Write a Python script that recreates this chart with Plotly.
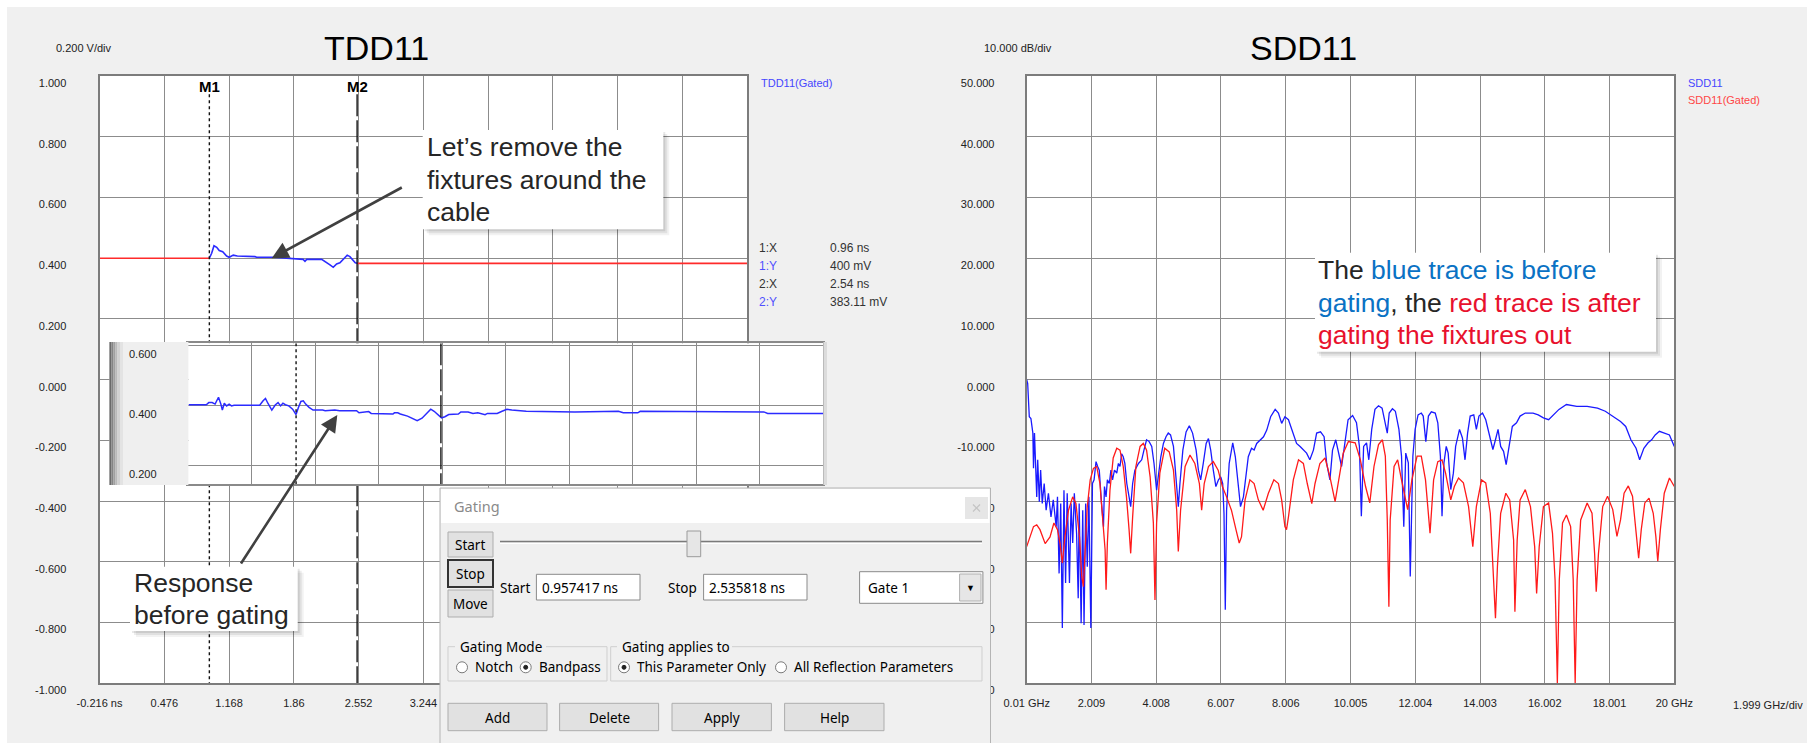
import plotly.graph_objects as go

W, H = 1807, 743
ARIAL = "Liberation Sans, Arial, sans-serif"
UI = "Noto Sans, Liberation Sans, sans-serif"

# ---------------- data ----------------
tdd_ticks = [-0.216, 0.476, 1.168, 1.86, 2.552, 3.244, 3.936, 4.628, 5.32, 6.012, 6.704]
# labels beyond 3.244 ns are hidden behind the Gating dialog in the reference
tdd_tick_text = ["-0.216 ns", "0.476", "1.168", "1.86", "2.552", "3.244", "", "", "", "", ""]
tdd_v_ticks = [-1.0, -0.8, -0.6, -0.4, -0.2, 0.0, 0.2, 0.4, 0.6, 0.8, 1.0]
tdd_v_text = ["-1.000", "-0.800", "-0.600", "-0.400", "-0.200", "0.000", "0.200", "0.400", "0.600", "0.800", "1.000"]

sdd_ticks = [0.01, 2.009, 4.008, 6.007, 8.006, 10.005, 12.004, 14.003, 16.002, 18.001, 20.0]
sdd_tick_text = ["0.01 GHz", "2.009", "4.008", "6.007", "8.006", "10.005", "12.004", "14.003", "16.002", "18.001", "20 GHz"]
sdd_db_ticks = [-50, -40, -30, -20, -10, 0, 10, 20, 30, 40, 50]
sdd_db_text = ["-50.000", "-40.000", "-30.000", "-20.000", "-10.000", "0.000", "10.000", "20.000", "30.000", "40.000", "50.000"]

marker_times = [0.957417, 2.535818]
marker_names = ["M1", "M2"]

# gated TDD11 (red) : before M1 and after M2
tdd_red_t = [-0.216, 0.957, None, 2.541, 6.704]
tdd_red_v = [0.400, 0.400, None, 0.383, 0.383]

# TDD11 inside the gate (blue)
tdd_gate_t = [0.957, 0.982, 1.007, 1.036, 1.063, 1.100, 1.142, 1.170, 1.213, 1.256, 1.445, 1.463, 1.640,
              1.854, 1.960, 1.979, 1.997, 2.157, 2.192, 2.246, 2.281, 2.317, 2.352, 2.388, 2.430, 2.459,
              2.487, 2.516, 2.541]
tdd_gate_v = [0.400, 0.416, 0.441, 0.436, 0.425, 0.421, 0.407, 0.403, 0.410, 0.407, 0.405, 0.403, 0.403,
              0.398, 0.396, 0.390, 0.396, 0.396, 0.390, 0.378, 0.370, 0.381, 0.385, 0.398, 0.410, 0.405,
              0.394, 0.385, 0.383]

# response before gating (inset)
inset_t = [-0.216, -0.021, 0.006, 0.043, 0.075, 0.112, 0.138, 0.154, 0.175, 0.201, 0.228, 0.254, 0.281,
           0.561, 0.598, 0.624, 0.650, 0.693, 0.730, 0.761, 0.788, 0.814, 0.841, 0.878, 0.920, 0.957,
           0.983, 1.010, 1.036, 1.062, 1.099, 1.142, 1.247, 1.274, 1.379, 1.432, 1.617, 1.643, 1.749,
           1.776, 2.013, 2.029, 2.066, 2.093, 2.172, 2.225, 2.277, 2.330, 2.383, 2.425, 2.462, 2.505,
           2.542, 2.579, 2.621, 2.726, 2.753, 2.832, 2.885, 2.938, 3.017, 3.043, 3.149, 3.202, 3.255,
           3.308, 3.360, 3.466, 3.994, 4.206, 4.470, 4.523, 4.681, 4.708, 4.866, 4.945, 6.055, 6.097, 6.704]
inset_v = [0.401, 0.401, 0.408, 0.408, 0.403, 0.426, 0.403, 0.383, 0.406, 0.397, 0.403, 0.397, 0.399,
           0.399, 0.414, 0.422, 0.406, 0.383, 0.400, 0.408, 0.397, 0.406, 0.401, 0.397, 0.386, 0.368,
           0.392, 0.412, 0.414, 0.403, 0.392, 0.383, 0.383, 0.381, 0.383, 0.381, 0.381, 0.374, 0.378,
           0.372, 0.370, 0.374, 0.374, 0.370, 0.363, 0.354, 0.348, 0.356, 0.372, 0.386, 0.379, 0.366,
           0.357, 0.361, 0.368, 0.370, 0.377, 0.377, 0.372, 0.374, 0.368, 0.372, 0.372, 0.379, 0.386,
           0.383, 0.381, 0.379, 0.377, 0.379, 0.379, 0.374, 0.374, 0.379, 0.379, 0.377, 0.377, 0.372, 0.372]

# SDD11 before gating (blue)
sdd_blue_f = [0.01, 0.04, 0.09, 0.14, 0.20, 0.22, 0.25, 0.29, 0.32, 0.35, 0.40, 0.44, 0.49, 0.55, 0.61, 0.68,
              0.76, 0.83, 0.92, 0.96, 1.01, 1.06, 1.11, 1.16, 1.21, 1.26, 1.33, 1.38, 1.43, 1.48, 1.55, 1.60,
              1.63, 1.69, 1.74, 1.78, 1.83, 1.88, 1.93, 1.99, 2.04, 2.09, 2.15, 2.20, 2.25, 2.32, 2.38, 2.41,
              2.46, 2.50, 2.56, 2.61, 2.66, 2.72, 2.79, 2.84, 2.89, 2.94, 2.99, 3.04, 3.10, 3.17, 3.22, 3.28,
              3.35, 3.46, 3.56, 3.63, 3.71, 3.79, 3.87, 3.94, 4.02, 4.07, 4.15, 4.23, 4.31, 4.38, 4.45, 4.54,
              4.62, 4.69, 4.74, 4.83, 4.93, 5.03, 5.13, 5.24, 5.31, 5.38, 5.46, 5.55, 5.62, 5.69, 5.77, 5.85,
              5.93, 6.00, 6.06, 6.10, 6.14, 6.18, 6.26, 6.37, 6.45, 6.53, 6.61, 6.70, 6.78, 6.85, 6.95, 7.03,
              7.11, 7.21, 7.32, 7.42, 7.54, 7.68, 7.78, 7.88, 7.98, 8.09, 8.19, 8.34, 8.45, 8.55, 8.65, 8.75,
              8.86, 8.96, 9.08, 9.19, 9.27, 9.37, 9.45, 9.55, 9.62, 9.73, 9.83, 9.93, 10.07, 10.19, 10.28,
              10.34, 10.41, 10.50, 10.57, 10.66, 10.76, 10.87, 10.98, 11.08, 11.14, 11.20, 11.30, 11.39,
              11.50, 11.58, 11.65, 11.71, 11.79, 11.85, 11.93, 12.00, 12.09, 12.19, 12.25, 12.33, 12.41,
              12.50, 12.62, 12.70, 12.78, 12.83, 12.89, 12.96, 13.02, 13.10, 13.18, 13.25, 13.37, 13.46,
              13.54, 13.62, 13.70, 13.81, 13.89, 13.97, 14.08, 14.18, 14.29, 14.40, 14.48, 14.56, 14.64,
              14.73, 14.81, 14.92, 15.00, 15.13, 15.24, 15.40, 15.64, 15.80, 15.96, 16.12, 16.28, 16.44,
              16.67, 16.99, 17.31, 17.63, 17.87, 18.10, 18.34, 18.50, 18.66, 18.82, 18.93, 19.06, 19.19,
              19.30, 19.41, 19.54, 19.69, 19.85, 20.0]
sdd_blue_db = [0.0, -0.6, -6.1, -6.4, -8.8, -14.6, -8.8, -13.8, -19.3, -13.2, -20.1, -14.9, -20.4, -17.1, -21.5,
               -18.7, -22.6, -19.8, -24.2, -19.3, -31.9, -20.4, -40.9, -18.2, -33.5, -18.7, -33.5, -20.4,
               -26.9, -18.7, -25.3, -36.0, -20.4, -40.1, -21.5, -40.4, -20.4, -30.8, -19.3, -40.9, -17.1,
               -16.5, -13.5, -14.3, -14.9, -20.4, -24.2, -17.6, -19.3, -16.5, -17.1, -14.9, -16.5, -14.9,
               -15.4, -13.8, -14.3, -12.2, -12.7, -13.8, -17.1, -19.3, -20.9, -17.1, -14.9, -13.8, -13.2,
               -11.6, -9.9, -10.2, -11.0, -13.8, -18.2, -16.0, -12.7, -10.5, -9.4, -8.8, -9.1, -11.0, -16.0,
               -20.9, -17.1, -11.6, -8.6, -7.6, -8.8, -11.6, -14.9, -16.5, -13.8, -10.5, -9.7, -11.6, -14.9,
               -17.6, -16.5, -16.0, -17.1, -22.0, -37.9, -21.5, -13.8, -10.4, -12.7, -17.1, -20.9, -19.3,
               -15.4, -12.7, -11.3, -11.6, -10.5, -9.9, -9.4, -8.3, -6.1, -4.9, -5.5, -7.2, -6.1, -6.6, -8.3,
               -10.5, -11.0, -11.6, -12.1, -13.2, -11.6, -8.8, -8.6, -9.4, -13.8, -16.5, -11.6, -9.9, -11.6,
               -14.3, -10.5, -6.6, -5.9, -7.1, -11.0, -22.5, -11.0, -10.4, -13.2, -8.2, -4.9, -4.3, -4.7,
               -7.7, -8.8, -5.5, -4.8, -5.2, -8.2, -12.6, -24.2, -12.1, -13.7, -32.4, -12.6, -8.2, -5.8, -5.5,
               -6.0, -10.2, -6.0, -5.3, -5.5, -7.1, -12.6, -22.5, -13.7, -11.0, -12.1, -18.1, -15.4, -11.0,
               -8.2, -9.6, -13.2, -8.8, -6.0, -5.8, -8.2, -6.0, -5.5, -6.6, -9.3, -11.5, -9.9, -8.2, -11.0,
               -11.8, -14.0, -9.9, -7.7, -7.1, -6.0, -5.5, -5.5, -5.8, -6.3, -6.6, -5.8, -4.9, -4.1, -4.4,
               -4.4, -4.7, -5.2, -6.0, -6.9, -7.7, -9.9, -11.3, -13.2, -11.3, -10.4, -9.9, -9.1, -8.5, -8.8,
               -9.1, -11.0]

# SDD11 after gating (red)
sdd_red_f = [0.01, 0.11, 0.22, 0.32, 0.42, 0.58, 0.73, 0.85, 0.96, 1.04, 1.11, 1.19, 1.30, 1.43, 1.53, 1.64,
             1.71, 1.76, 1.81, 1.88, 1.97, 2.07, 2.17, 2.27, 2.35, 2.43, 2.46, 2.50, 2.58, 2.68, 2.79, 2.89,
             2.99, 3.09, 3.17, 3.22, 3.28, 3.38, 3.51, 3.61, 3.71, 3.82, 3.92, 3.97, 4.02, 4.12, 4.27, 4.41,
             4.54, 4.64, 4.69, 4.76, 4.90, 5.05, 5.20, 5.34, 5.41, 5.49, 5.62, 5.77, 5.92, 6.05, 6.18, 6.33,
             6.47, 6.57, 6.64, 6.75, 6.90, 7.03, 7.16, 7.31, 7.47, 7.64, 7.78, 7.88, 7.98, 8.03, 8.09, 8.24,
             8.40, 8.55, 8.67, 8.81, 8.91, 9.06, 9.22, 9.37, 9.53, 9.63, 9.78, 9.94, 10.15, 10.31, 10.47,
             10.60, 10.73, 10.87, 10.99, 11.08, 11.14, 11.19, 11.23, 11.35, 11.46, 11.58, 11.77, 11.90,
             12.06, 12.19, 12.32, 12.46, 12.57, 12.70, 12.83, 12.94, 13.10, 13.21, 13.34, 13.49, 13.65,
             13.78, 13.89, 14.05, 14.18, 14.32, 14.41, 14.48, 14.54, 14.64, 14.80, 14.92, 15.04, 15.08,
             15.15, 15.24, 15.40, 15.56, 15.69, 15.75, 15.83, 15.96, 16.12, 16.24, 16.32, 16.39, 16.45,
             16.55, 16.67, 16.80, 16.88, 16.94, 17.00, 17.11, 17.31, 17.46, 17.54, 17.59, 17.66, 17.79,
             17.94, 18.10, 18.23, 18.34, 18.45, 18.58, 18.71, 18.82, 18.90, 18.98, 19.09, 19.22, 19.35,
             19.43, 19.49, 19.57, 19.69, 19.85, 20.0]
sdd_red_db = [-27.5, -25.9, -24.2, -23.9, -24.7, -27.0, -25.9, -23.6, -24.7, -27.0, -30.2, -25.9, -21.5, -19.3,
              -20.4, -25.9, -32.4, -34.1, -28.0, -20.9, -16.5, -14.6, -14.3, -17.1, -22.6, -28.0, -34.6, -26.9,
              -18.2, -12.9, -11.3, -11.6, -14.3, -19.3, -24.7, -28.6, -22.6, -14.3, -11.0, -10.5, -11.6, -16.0,
              -23.6, -36.3, -23.6, -15.4, -11.3, -11.9, -14.9, -21.5, -28.3, -21.5, -14.3, -12.4, -13.8, -17.1,
              -21.5, -17.1, -14.3, -13.5, -14.9, -17.6, -19.3, -21.5, -24.7, -26.9, -25.9, -19.8, -16.5, -17.1,
              -19.8, -21.5, -18.7, -16.5, -17.1, -19.8, -24.2, -24.7, -22.6, -16.5, -13.2, -13.8, -17.1, -20.4,
              -17.1, -13.8, -12.9, -16.0, -20.1, -17.1, -12.1, -10.2, -10.4, -13.2, -17.6, -20.3, -14.3, -10.7,
              -9.9, -12.6, -23.1, -37.4, -23.1, -14.3, -13.2, -16.5, -21.4, -16.5, -12.6, -12.6, -16.5, -25.3,
              -16.5, -13.5, -13.2, -15.4, -19.8, -17.6, -16.2, -17.0, -20.9, -27.5, -20.9, -16.5, -17.0, -22.0,
              -30.8, -39.3, -30.8, -22.0, -18.7, -19.8, -26.4, -38.2, -26.4, -19.8, -18.1, -20.9, -27.5, -35.2,
              -27.5, -20.9, -20.3, -25.3, -33.0, -50.0, -33.0, -23.6, -22.3, -24.2, -33.0, -50.0, -33.0, -23.1,
              -20.3, -22.0, -28.6, -34.9, -28.6, -20.9, -19.2, -21.4, -25.8, -23.1, -18.7, -17.5, -19.2, -24.7,
              -29.4, -24.7, -20.3, -19.5, -22.0, -25.8, -29.9, -24.7, -18.7, -16.2, -17.6]

readout_labels = ["1:X", "1:Y", "2:X", "2:Y"]
readout_values = ["0.96 ns", "400 mV", "2.54 ns", "383.11 mV"]


# ---------------- helpers ----------------
def px(x):
    return x / W


def py(y):
    return 1 - y / H


annotations = []
shapes = []


def text(x, y, s, size=11, color="#333333", xanchor="center", yanchor="middle", family=ARIAL, **kw):
    annotations.append(dict(x=px(x), y=py(y), xref="paper", yref="paper", text=s, showarrow=False,
                            xanchor=xanchor, yanchor=yanchor, font=dict(size=size, color=color, family=family),
                            **kw))


def rect(x0, y0, x1, y1, fill, line=None, lw=1, layer="above"):
    shapes.append(dict(type="rect", xref="paper", yref="paper", x0=px(x0), x1=px(x1), y0=py(y1), y1=py(y0),
                       fillcolor=fill, line=dict(color=line if line else "rgba(0,0,0,0)", width=lw if line else 0),
                       layer=layer))


def seg(x0, y0, x1, y1, color, lw=1, layer="above"):
    shapes.append(dict(type="line", xref="paper", yref="paper", x0=px(x0), x1=px(x1), y0=py(y0), y1=py(y1),
                       line=dict(color=color, width=lw), layer=layer))


def circle(cx, cy, r, fill, line="#7a7a7a"):
    shapes.append(dict(type="circle", xref="paper", yref="paper", x0=px(cx - r), x1=px(cx + r),
                       y0=py(cy + r), y1=py(cy - r), fillcolor=fill, line=dict(color=line, width=1),
                       layer="above"))


def shadow_box(x0, y0, x1, y1):
    for d, a in [(6, 0.05), (4, 0.07), (2, 0.09)]:
        rect(x0 + d, y0 + d, x1 + d, y1 + d, "rgba(0,0,0,%.2f)" % a)
    rect(x0, y0, x1, y1, "white")


# ---------------- figure ----------------
fig = go.Figure()

BLUE = "#2b2bff"
RED = "#ff2b2b"

fig.add_trace(go.Scatter(x=tdd_red_t, y=tdd_red_v, mode="lines", line=dict(color=RED, width=1.6),
                         xaxis="x", yaxis="y", hoverinfo="skip"))
fig.add_trace(go.Scatter(x=tdd_gate_t, y=tdd_gate_v, mode="lines", line=dict(color=BLUE, width=1.6),
                         xaxis="x", yaxis="y", hoverinfo="skip"))
for t, dash in zip(marker_times, ["3px,3px", "22px,4px"]):
    fig.add_trace(go.Scatter(x=[t, t], y=[0.94, -1.0], mode="lines", line=dict(color="#111111", width=1.4, dash=dash),
                             xaxis="x", yaxis="y", hoverinfo="skip"))

fig.add_trace(go.Scatter(x=sdd_blue_f, y=sdd_blue_db, mode="lines", line=dict(color="#1a1aff", width=1.3),
                         xaxis="x2", yaxis="y2", hoverinfo="skip"))
fig.add_trace(go.Scatter(x=sdd_red_f, y=sdd_red_db, mode="lines", line=dict(color="#ff1a1a", width=1.3),
                         xaxis="x2", yaxis="y2", hoverinfo="skip"))

fig.add_trace(go.Scatter(x=inset_t, y=inset_v, mode="lines", line=dict(color=BLUE, width=1.5),
                         xaxis="x3", yaxis="y3", hoverinfo="skip"))
for t, dash in zip(marker_times, ["3px,3px", "22px,4px"]):
    fig.add_trace(go.Scatter(x=[t, t], y=[0.6057, 0.1357], mode="lines",
                             line=dict(color="#111111", width=1.4, dash=dash),
                             xaxis="x3", yaxis="y3", hoverinfo="skip"))

GRID = "#8c8c8c"
FRAME = "#7c7c7c"
tickfont = dict(size=11, color="#222222", family=ARIAL)
common = dict(showgrid=True, gridcolor=GRID, gridwidth=1.3, showline=True, linecolor=FRAME, linewidth=2,
              mirror=True, zeroline=False, ticks="", tickfont=tickfont, fixedrange=True, automargin=False)

fig.update_layout(
    width=W, height=H, margin=dict(l=0, r=0, t=0, b=0, pad=0), autosize=False,
    paper_bgcolor="#f0f0f0", plot_bgcolor="white", showlegend=False,
    xaxis=dict(domain=[px(99.5), px(747.3)], range=[-0.216, 6.704], tickmode="array", tickvals=tdd_ticks,
               ticktext=tdd_tick_text, ticklabelstandoff=8, anchor="y", **common),
    yaxis=dict(domain=[py(683.3), py(76)], range=[-1, 1], tickmode="array", tickvals=tdd_v_ticks,
               ticktext=tdd_v_text, ticklabelstandoff=29, ticklabelshift=7, anchor="x", **common),
    xaxis2=dict(domain=[px(1026.7), px(1674.3)], range=[0.01, 20], tickmode="array", tickvals=sdd_ticks,
                ticktext=sdd_tick_text, ticklabelstandoff=8, anchor="y2", **common),
    yaxis2=dict(domain=[py(683.3), py(76)], range=[-50, 50], tickmode="array", tickvals=sdd_db_ticks,
                ticktext=sdd_db_text, ticklabelstandoff=28, ticklabelshift=7, anchor="x2", **common),
    xaxis3=dict(domain=[px(188.4), px(823.4)], range=[-0.216, 6.704], tickmode="array", tickvals=tdd_ticks,
                showticklabels=False, anchor="y3", showgrid=True, gridcolor=GRID, gridwidth=1.3, showline=True,
                linecolor="#8a8a8a", linewidth=1.5, mirror=True, zeroline=False, ticks="", fixedrange=True),
    yaxis3=dict(domain=[py(484.3), py(343.3)], range=[0.1357, 0.6057], tickmode="array", tickvals=[0.2, 0.4, 0.6],
                showticklabels=False, anchor="x3", showgrid=True, gridcolor=GRID, gridwidth=1.3, showline=True,
                linecolor="#8a8a8a", linewidth=1.5, mirror=True, zeroline=False, ticks="", fixedrange=True),
)

# white outer margins
rect(0, 0, W, 7, "white", layer="below")
rect(0, 0, 7, H, "white", layer="below")

# titles and headers
text(376, 48, "TDD11", size=34, color="#000000")
text(1303, 48, "SDD11", size=34, color="#000000")
text(54, 48, "0.200 V/div", color="#222222", xanchor="left")
text(981.7, 48, "10.000 dB/div", color="#222222", xanchor="left")
text(1805, 705, "1.999 GHz/div", color="#222222", xanchor="right")
text(758.7, 83, "TDD11(Gated)", color="#4646ff", xanchor="left")
text(1686, 83, "SDD11", color="#4646ff", xanchor="left")
text(1686, 100, "SDD11(Gated)", color="#ff4646", xanchor="left")

# marker labels
for t, name in zip(marker_times, marker_names):
    annotations.append(dict(x=t, y=0.967, xref="x", yref="y", text="<b>%s</b>" % name, showarrow=False,
                            font=dict(size=15, color="#000000", family=ARIAL)))

# marker readouts
for i, (lab, val) in enumerate(zip(readout_labels, readout_values)):
    yy = 248 + 18 * i
    col = "#5050ff" if lab.endswith("Y") else "#333333"
    text(757, yy, lab, size=12, color=col, xanchor="left")
    text(828, yy, val, size=12, color="#333333", xanchor="left")

# ---- inset frame pieces (grey label panel) ----
rect(109.4, 342, 188.4, 485, "#efefef")
for x0, x1, c in [(109.4, 111.5, "#6a6a6a"), (111.5, 113.5, "#858585"), (113.5, 115.5, "#a0a0a0"),
                  (115.5, 117.5, "#bababa"), (117.5, 120, "#d2d2d2"), (120, 123, "#e3e3e3")]:
    rect(x0, 342, x1, 485, c)
rect(823.4, 342, 827, 485, "#dcdcdc")
text(142.7, 354, "0.600", color="#222222")
text(142.7, 414, "0.400", color="#222222")
text(142.7, 473.5, "0.200", color="#222222")

# ---- callout boxes ----
shadow_box(422.7, 130, 663.3, 229.3)
BOXFONT = 26.5
for yy, s in [(146.7, "Let’s remove the"), (180, "fixtures around the"), (211.7, "cable")]:
    text(425, yy, s, size=BOXFONT, color="#262626", xanchor="left")

shadow_box(130, 566.7, 297.7, 631)
for yy, s in [(582.7, "Response"), (615, "before gating")]:
    text(132.3, yy, s, size=BOXFONT, color="#262626", xanchor="left")

shadow_box(1315, 252.7, 1656, 351.7)
CB, CR, CK = "#0a72c4", "#e8112d", "#262626"
text(1316, 270, "<span style='color:%s'>The </span><span style='color:%s'>blue trace is before</span>" % (CK, CB),
     size=BOXFONT, xanchor="left")
text(1316, 303.3, "<span style='color:%s'>gating</span><span style='color:%s'>, the </span>"
                  "<span style='color:%s'>red trace is after</span>" % (CB, CK, CR), size=BOXFONT, xanchor="left")
text(1316, 335, "gating the fixtures out", size=BOXFONT, color=CR, xanchor="left")

# arrows
for (tx, ty), (sx, sy) in [((271.7, 258.3), (403.3, 186.7)), ((337.3, 415), (240, 565))]:
    annotations.append(dict(x=px(tx), y=py(ty), xref="paper", yref="paper", text="", showarrow=True,
                            ax=sx - tx, ay=sy - ty, axref="pixel", ayref="pixel", arrowhead=2, arrowsize=1.3,
                            arrowwidth=2.6, arrowcolor="#404040", standoff=0))

# ---- Gating dialog ----
rect(440, 488, 990.5, 745, "#f0f0f0", line="#b4b4b4", lw=1)
rect(441, 489, 989.5, 523, "#ffffff")
text(452, 506, "Gating", size=14.5, color="#8a8a8a", xanchor="left", family=UI)
rect(965, 497, 988, 519, "#e6e6e6")
seg(973, 504.5, 980, 511.5, "#c4c4c4", lw=1.2)
seg(973, 511.5, 980, 504.5, "#c4c4c4", lw=1.2)

BTN, BTNL = "#e1e1e1", "#adadad"
rect(448, 532, 493, 557, BTN, line=BTNL)
text(470.5, 544.5, "Start", size=13.5, color="#000", family=UI)
rect(448, 560, 493, 587, BTN, line="#333333", lw=2)
text(470.5, 573.5, "Stop", size=13.5, color="#000", family=UI)
rect(448, 590, 493, 617, BTN, line=BTNL)
text(470.5, 603.5, "Move", size=13.5, color="#000", family=UI)

seg(500, 541.5, 982, 541.5, "#7a7a7a", lw=1.6)
seg(500, 543.5, 982, 543.5, "#ffffff", lw=1)
rect(687, 531, 700.7, 556.7, "#e6e6e6", line="#9a9a9a")

text(514.5, 588, "Start", size=13.5, color="#000", family=UI)
rect(536.4, 574.3, 640, 600, "white", line="#8a8a8a")
text(540, 588, "0.957417 ns", size=13.5, color="#000", xanchor="left", family=UI)
text(682, 588, "Stop", size=13.5, color="#000", family=UI)
rect(703.6, 574.3, 807, 600, "white", line="#8a8a8a")
text(707, 588, "2.535818 ns", size=13.5, color="#000", xanchor="left", family=UI)

rect(859.6, 571.7, 982.9, 603.3, "white", line="#8a8a8a")
rect(959.6, 574, 981, 601, "#e6e6e6", line="#b0b0b0")
text(970.3, 587.5, "▼", size=9, color="#000", family=ARIAL)
text(866, 588, "Gate 1", size=13.5, color="#000", xanchor="left", family=UI)

rect(448, 646.7, 607, 681, "rgba(0,0,0,0)", line="#cfcfcf")
rect(455, 640, 546, 654, "#f0f0f0")
text(458, 646.7, "Gating Mode", size=13.5, color="#000", xanchor="left", family=UI)
rect(610.7, 646.7, 982, 681, "rgba(0,0,0,0)", line="#cfcfcf")
rect(617, 640, 732, 654, "#f0f0f0")
text(620, 646.7, "Gating applies to", size=13.5, color="#000", xanchor="left", family=UI)

for cx, lab, on in [(462, "Notch", False), (525.7, "Bandpass", True), (624, "This Parameter Only", True),
                    (781, "All Reflection Parameters", False)]:
    circle(cx, 667.3, 5.5, "white")
    if on:
        circle(cx, 667.3, 2, "#222222", line="#222222")
    text(cx + 11, 667.3, lab, size=13.5, color="#000", xanchor="left", family=UI)

for x0, x1, lab in [(448, 547, "Add"), (559.6, 658.6, "Delete"), (672, 771.4, "Apply"), (784.6, 884, "Help")]:
    rect(x0, 703.3, x1, 730.7, BTN, line=BTNL)
    text((x0 + x1) / 2, 717.5, lab, size=13.5, color="#000", family=UI)

fig.update_layout(shapes=shapes, annotations=annotations)
fig.write_html("out.html", config={"displayModeBar": False},
               post_script="document.body.style.margin='0';document.body.style.padding='0';"
                           "document.body.style.overflow='hidden';"
                           "document.documentElement.style.overflow='hidden';")
